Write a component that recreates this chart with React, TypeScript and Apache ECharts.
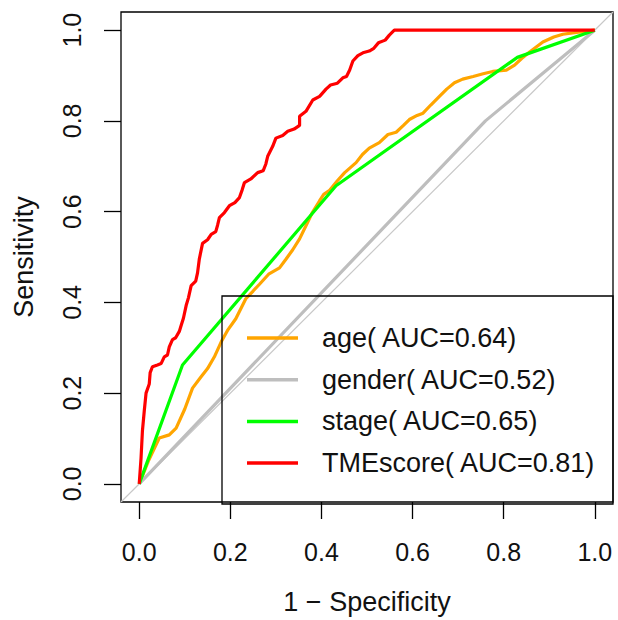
import React, { useEffect, useRef } from "react";
import * as echarts from "echarts";

const tickValues = [0, 0.2, 0.4, 0.6, 0.8, 1.0];
const seriesNames = ["age", "gender", "stage", "TMEscore"];
const aucValues = [0.64, 0.52, 0.65, 0.81];
const seriesColors = ["#FFA500", "#BEBEBE", "#00FF00", "#FF0000"];

const ageRoc: number[][] = [
  [0, 0], [0.02, 0.05], [0.044, 0.101], [0.066, 0.108], [0.081, 0.123], [0.1, 0.165],
  [0.117, 0.211], [0.135, 0.235], [0.15, 0.254], [0.165, 0.28], [0.18, 0.313], [0.195, 0.34],
  [0.212, 0.364], [0.234, 0.408], [0.25, 0.425], [0.264, 0.44], [0.285, 0.463], [0.308, 0.476],
  [0.322, 0.495], [0.337, 0.516], [0.352, 0.54], [0.366, 0.569], [0.38, 0.598], [0.396, 0.624],
  [0.405, 0.638], [0.418, 0.647], [0.435, 0.668], [0.451, 0.686], [0.476, 0.708], [0.49, 0.726],
  [0.505, 0.74], [0.527, 0.752], [0.546, 0.77], [0.564, 0.775], [0.58, 0.79], [0.593, 0.803],
  [0.61, 0.812], [0.623, 0.817], [0.64, 0.835], [0.659, 0.854], [0.675, 0.87], [0.692, 0.884],
  [0.71, 0.892], [0.733, 0.898], [0.755, 0.904], [0.776, 0.909], [0.806, 0.912], [0.824, 0.923],
  [0.84, 0.938], [0.857, 0.952], [0.886, 0.974], [0.91, 0.985], [0.93, 0.991], [0.96, 0.995],
  [1, 1],
];
const genderRoc: number[][] = [[0, 0], [0.76, 0.8], [1, 1]];
const stageRoc: number[][] = [[0, 0], [0.095, 0.262], [0.432, 0.657], [0.83, 0.94], [1, 1]];
const tmeRoc: number[][] = [
  [0, 0], [0.004, 0.057], [0.007, 0.116], [0.011, 0.16], [0.015, 0.2], [0.022, 0.22],
  [0.024, 0.245], [0.029, 0.258], [0.04, 0.262], [0.048, 0.265], [0.055, 0.28], [0.062, 0.284],
  [0.066, 0.302], [0.073, 0.318], [0.08, 0.322], [0.088, 0.336], [0.092, 0.349], [0.097, 0.365],
  [0.103, 0.393], [0.108, 0.41], [0.114, 0.437], [0.124, 0.447], [0.128, 0.465], [0.132, 0.496],
  [0.139, 0.53], [0.15, 0.538], [0.158, 0.55], [0.168, 0.556], [0.172, 0.57], [0.176, 0.587],
  [0.187, 0.598], [0.198, 0.613], [0.21, 0.62], [0.22, 0.631], [0.226, 0.648], [0.231, 0.664],
  [0.245, 0.672], [0.26, 0.686], [0.272, 0.69], [0.278, 0.705], [0.282, 0.722], [0.293, 0.744],
  [0.3, 0.762], [0.315, 0.768], [0.326, 0.777], [0.34, 0.782], [0.352, 0.79], [0.352, 0.81],
  [0.366, 0.821], [0.381, 0.846], [0.396, 0.854], [0.41, 0.87], [0.42, 0.879], [0.435, 0.883],
  [0.447, 0.895], [0.455, 0.898], [0.462, 0.912], [0.469, 0.932], [0.48, 0.944], [0.491, 0.95],
  [0.505, 0.954], [0.515, 0.96], [0.525, 0.972], [0.54, 0.978], [0.549, 0.989], [0.56, 1.0],
  [1, 1],
];
const diagonalRef: number[][] = [[-0.04, -0.04], [1.04, 1.04]];

const rocData = [ageRoc, genderRoc, stageRoc, tmeRoc];

const FONT = "'Liberation Sans', Arial, Helvetica, sans-serif";

export default function App() {
  const ref = useRef<HTMLDivElement>(null);
  useEffect(() => {
    if (!ref.current) return;
    const chart = echarts.init(ref.current, undefined, { renderer: "svg" });
    const labels = seriesNames.map((n, i) => `${n}( AUC=${aucValues[i].toFixed(2)})`);
    const axisCommon = {
      type: "value" as const,
      min: -0.04,
      max: 1.04,
      splitLine: { show: false },
      axisLine: { show: false, onZero: false },
      axisTick: {
        show: true,
        inside: false,
        customValues: tickValues,
        length: 17,
        lineStyle: { color: "#000", width: 1.3 },
      },
      nameLocation: "middle" as const,
      nameTextStyle: { fontFamily: FONT, fontSize: 27, color: "#111" },
    };
    chart.setOption({
      animation: false,
      backgroundColor: "#fff",
      grid: {
        left: 121,
        right: 5,
        top: 12,
        bottom: 116,
        show: true,
        borderColor: "#000",
        borderWidth: 1.3,
        backgroundColor: "transparent",
      },
      xAxis: {
        ...axisCommon,
        name: "1 \u2212 Specificity",
        nameGap: 86,
        axisLabel: {
          customValues: tickValues,
          margin: 37,
          fontFamily: FONT,
          fontSize: 25,
          color: "#111",
          formatter: (v: number) => v.toFixed(1),
        },
      },
      yAxis: {
        ...axisCommon,
        name: "Sensitivity",
        nameGap: 84,
        nameRotate: 90,
        axisLabel: {
          customValues: tickValues,
          margin: 37,
          rotate: 90,
          fontFamily: FONT,
          fontSize: 25,
          color: "#111",
          formatter: (v: number) => v.toFixed(1),
        },
      },
      legend: {
        data: labels,
        orient: "vertical",
        left: 247,
        top: 323,
        padding: 0,
        icon: "rect",
        itemWidth: 51,
        itemHeight: 3.5,
        itemGap: 11.7,
        selectedMode: false,
        textStyle: {
          fontFamily: FONT,
          fontSize: 27,
          color: "#111",
          lineHeight: 30,
          padding: [0, 0, 0, 19],
        },
      },
      graphic: [
        {
          type: "rect",
          shape: { x: 222, y: 296, width: 391, height: 208 },
          style: { fill: "none", stroke: "#000", lineWidth: 1.3 },
          silent: true,
          z: 100,
        },
      ],
      series: [
        {
          type: "line",
          name: "ref",
          data: diagonalRef,
          symbol: "none",
          lineStyle: { color: "#C8C8C8", width: 1.2 },
          silent: true,
          z: 1,
        },
        ...labels.map((lab, i) => ({
          type: "line",
          name: lab,
          data: rocData[i],
          symbol: "none",
          color: seriesColors[i],
          lineStyle: { color: seriesColors[i], width: 3.2 },
          z: 2 + i,
        })),
      ],
    });
    return () => chart.dispose();
  }, []);
  return (
    <div
      ref={ref}
      style={{ position: "fixed", left: 0, top: 0, width: 618, height: 620 }}
    />
  );
}
